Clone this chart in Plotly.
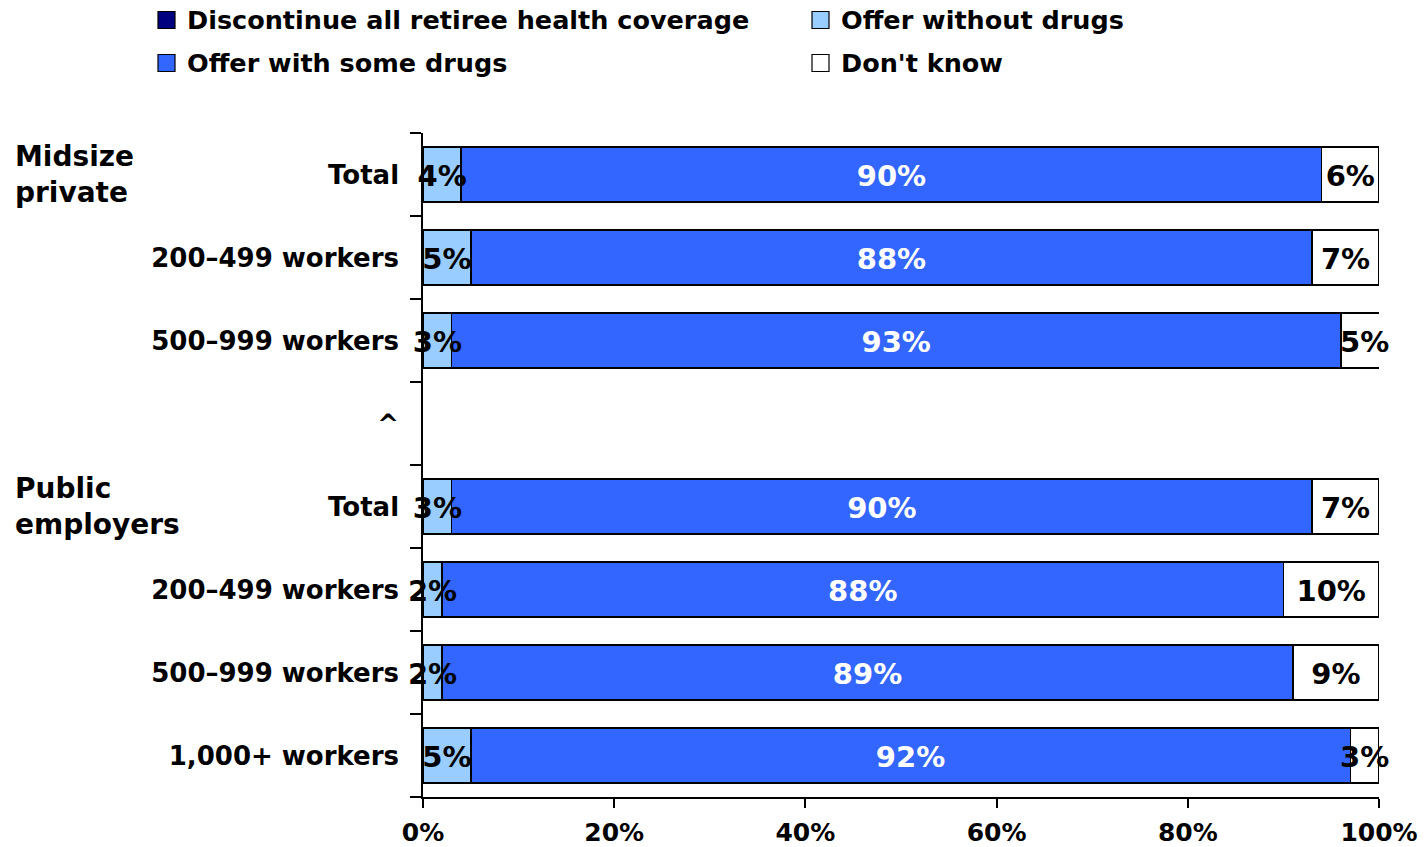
import plotly.graph_objects as go

# ---------------- data ----------------
categories = ["Total", "200–499 workers", "500–999 workers", "^",
              "Total", "200–499 workers", "500–999 workers", "1,000+ workers"]
group_labels = ["Midsize<br>private", "Public<br>employers"]
group_rows = [0, 4]
series_names = ["Discontinue all retiree health coverage", "Offer without drugs",
                "Offer with some drugs", "Don't know"]
discontinue = [0, 0, 0, None, 0, 0, 0, 0]
offer_without = [4, 5, 3, None, 3, 2, 2, 5]
offer_some = [90, 88, 93, None, 90, 88, 89, 92]
dont_know = [6, 7, 5, None, 7, 10, 9, 3]
x_ticks = [0, 20, 40, 60, 80, 100]

# ---------------- style ----------------
colors = ["#000080", "#99CCFF", "#3366FF", "#FFFFFF"]
label_colors = [None, "black", "white", "black"]
FONT = "DejaVu Sans"
W, H = 1427, 847
ML, MR, MT, MB = 423, 48, 133, 50
PW, PH = W - ML - MR, H - MT - MB
ROW_PX = PH / len(categories)
LABEL_DROP = 4 / ROW_PX  # small visual drop of the in-bar labels


def px_x(px):
    # page pixel -> paper coordinate
    return (px - ML) / PW


def px_y(py):
    return 1 - (py - MT) / PH


series = [discontinue, offer_without, offer_some, dont_know]
rows = list(range(len(categories)))

fig = go.Figure()
for name, vals, col in zip(series_names, series, colors):
    fig.add_trace(go.Bar(
        y=rows, x=vals, orientation="h", name=name,
        marker=dict(color=col, line=dict(color="black", width=1.5)),
        width=0.66, showlegend=False, hoverinfo="x+name",
    ))

# data labels centred on each segment
base = [0 if v is not None else None for v in discontinue]
for si, (vals, lc) in enumerate(zip(series, label_colors)):
    xs, ys, ts = [], [], []
    for r, v in enumerate(vals):
        if v is None:
            continue
        start = base[r]
        if lc is not None and v > 0:
            xs.append(start + v / 2)
            ys.append(r + LABEL_DROP)
            ts.append(f"{v}%")
        base[r] = start + v
    if xs:
        fig.add_trace(go.Scatter(
            x=xs, y=ys, text=ts, mode="text", textposition="middle center",
            textfont=dict(family=FONT, size=29, color=lc, weight="bold"),
            showlegend=False, hoverinfo="skip", cliponaxis=False,
        ))

annotations = []
for lbl, r in zip(group_labels, group_rows):
    annotations.append(dict(
        text=lbl, x=px_x(13), xref="paper", y=r, yref="y",
        xanchor="left", yanchor="middle", align="left", showarrow=False,
        font=dict(family=FONT, size=28, color="black", weight="bold"),
    ))

# legend (2 x 2 grid)
shapes = []
leg_pos = [(158, 20), (812, 20), (158, 63), (812, 63)]
leg_order = [0, 1, 2, 3]
for idx, (lx, ly) in zip(leg_order, leg_pos):
    shapes.append(dict(
        type="rect", xref="paper", yref="paper",
        x0=px_x(lx), x1=px_x(lx + 17), y0=px_y(ly - 8.5), y1=px_y(ly + 8.5),
        fillcolor=colors[idx], line=dict(color="black", width=1.2),
    ))
    annotations.append(dict(
        text=series_names[idx], x=px_x(lx + 27), xref="paper",
        y=px_y(ly), yref="paper", xanchor="left", yanchor="middle",
        showarrow=False,
        font=dict(family=FONT, size=25.5, color="black", weight="bold"),
    ))

fig.update_layout(
    width=W, height=H, barmode="stack",
    margin=dict(l=ML, r=MR, t=MT, b=MB, autoexpand=False),
    plot_bgcolor="white", paper_bgcolor="white",
    showlegend=False, bargap=0.34,
    annotations=annotations, shapes=shapes,
    xaxis=dict(
        range=[0, 100], tickvals=x_ticks, ticktext=[f"{t}%" for t in x_ticks],
        ticks="outside", ticklen=9, tickwidth=1.5, tickcolor="black",
        showline=True, linecolor="black", linewidth=1.5,
        showgrid=False, zeroline=False, ticklabelstandoff=3,
        tickfont=dict(family=FONT, size=25, color="black", weight="bold"),
    ),
    yaxis=dict(
        range=[len(categories) - 0.5, -0.5], tickvals=rows, ticktext=categories,
        ticks="", showline=True, linecolor="black", linewidth=1.5,
        showgrid=False, zeroline=False, ticklabelstandoff=17,
        minor=dict(tickvals=[r - 0.5 for r in range(len(categories) + 1)],
                   ticks="outside", ticklen=11, tickwidth=1.5, tickcolor="black",
                   showgrid=False),
        tickfont=dict(family=FONT, size=26, color="black", weight="bold"),
    ),
)

fig.write_html(
    "out.html",
    config={"displayModeBar": False},
    post_script="document.body.style.margin='0';document.body.style.overflow='hidden';",
)
